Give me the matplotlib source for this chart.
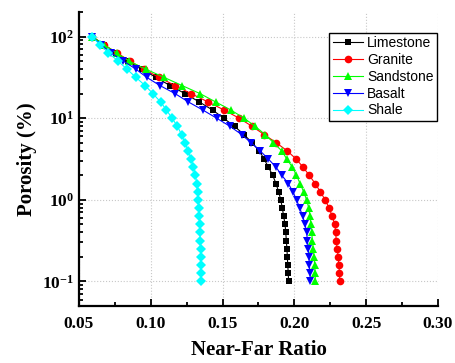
import matplotlib
matplotlib.use("Agg")
import matplotlib.pyplot as plt
from matplotlib.ticker import MultipleLocator, LogLocator

plt.rcParams['font.family'] = 'Liberation Serif'
plt.rcParams['font.weight'] = 'bold'
plt.rcParams['mathtext.fontset'] = 'custom'
plt.rcParams['mathtext.rm'] = 'Liberation Serif:bold'
plt.rcParams['mathtext.it'] = 'Liberation Serif:bold'
plt.rcParams['mathtext.bf'] = 'Liberation Serif:bold'

# porosity levels (%) shared by all rock types
porosity = [100, 79.4, 63.1, 50.1, 39.8, 31.6, 25.1, 20.0, 15.8, 12.6,
            10.0, 7.94, 6.31, 5.01, 3.98, 3.16, 2.51, 2.00, 1.58, 1.26,
            1.00, 0.794, 0.631, 0.501, 0.398, 0.316, 0.251, 0.200, 0.158, 0.126,
            0.100]

limestone = [0.0591, 0.0674, 0.0758, 0.0841, 0.0939, 0.1036, 0.1134, 0.1238, 0.1338, 0.1430,
             0.1507, 0.1583, 0.1649, 0.1705, 0.1756, 0.1789, 0.1819, 0.1849, 0.1872, 0.1890,
             0.1905, 0.1916, 0.1925, 0.1935, 0.1940, 0.1944, 0.1948, 0.1951, 0.1954, 0.1957,
             0.1960]
granite = [0.0591, 0.0674, 0.0765, 0.0855, 0.0953, 0.1057, 0.1169, 0.1280, 0.1399, 0.1510,
           0.1615, 0.1706, 0.1789, 0.1873, 0.1950, 0.2012, 0.2061, 0.2103, 0.2145, 0.2180,
           0.2214, 0.2242, 0.2263, 0.2281, 0.2288, 0.2291, 0.2298, 0.2305, 0.2310, 0.2314,
           0.2316]
sandstone = [0.0591, 0.0674, 0.0762, 0.0848, 0.0966, 0.1093, 0.1218, 0.1343, 0.1452, 0.1557,
             0.1650, 0.1727, 0.1796, 0.1854, 0.1912, 0.1947, 0.1986, 0.2014, 0.2040, 0.2064,
             0.2085, 0.2100, 0.2109, 0.2114, 0.2121, 0.2125, 0.2132, 0.2137, 0.2141, 0.2144,
             0.2146]
basalt = [0.0591, 0.0653, 0.0723, 0.0809, 0.0897, 0.0972, 0.1064, 0.1169, 0.1262, 0.1362,
          0.1459, 0.1552, 0.1632, 0.1698, 0.1761, 0.1819, 0.1872, 0.1912, 0.1958, 0.1989,
          0.2015, 0.2037, 0.2058, 0.2074, 0.2086, 0.2090, 0.2097, 0.2102, 0.2104, 0.2109,
          0.2111]
shale = [0.0591, 0.0646, 0.0705, 0.0772, 0.0834, 0.0897, 0.0960, 0.1015, 0.1068, 0.1109,
         0.1148, 0.1186, 0.1214, 0.1238, 0.1259, 0.1280, 0.1297, 0.1311, 0.1320, 0.1327,
         0.1331, 0.1335, 0.1338, 0.1341, 0.1343, 0.1345, 0.1347, 0.1349, 0.1350, 0.1352,
         0.1353]

series = [
    ("Limestone", limestone, 'black', 's', 5),
    ("Granite", granite, 'red', 'o', 5.5),
    ("Sandstone", sandstone, '#00ff00', '^', 6),
    ("Basalt", basalt, 'blue', 'v', 6),
    ("Shale", shale, 'cyan', 'D', 5),
]

fig = plt.figure(figsize=(4.55, 3.63), dpi=100)
ax = fig.add_axes([0.1736, 0.157, 0.789, 0.81])

for name, xs, c, m, ms in series:
    ax.plot(xs, porosity, color=c, marker=m, markersize=ms, lw=0.8,
            markeredgewidth=0, label=name)

ax.set_yscale('log')
ax.set_xlim(0.05, 0.30)
ax.set_ylim(0.05, 200)
ax.xaxis.set_minor_locator(MultipleLocator(0.025))
ax.yaxis.set_major_locator(LogLocator(base=10, numticks=10))
ax.yaxis.set_minor_locator(LogLocator(base=10, subs=range(2, 10), numticks=10))
ax.set_xticks([0.05, 0.10, 0.15, 0.20, 0.25, 0.30])
ax.set_xticklabels(['0.05', '0.10', '0.15', '0.20', '0.25', '0.30'])

ax.grid(True, which='major', linestyle=':', color='#c8c8c8', lw=0.8)
for s in ['top', 'right']:
    ax.spines[s].set_visible(False)
for s in ['left', 'bottom']:
    ax.spines[s].set_linewidth(1.6)
ax.tick_params(which='both', direction='in', width=1.3, labelsize=12.5)
ax.tick_params(which='major', length=5)
ax.tick_params(which='minor', length=3)
ax.tick_params(axis='x', pad=7)

ax.set_xlabel('Near-Far Ratio', fontsize=15, fontweight='bold', labelpad=6)
ax.set_ylabel('Porosity (%)', fontsize=15, fontweight='bold', labelpad=4)

leg = ax.legend(loc='upper right', bbox_to_anchor=(0.998, 0.929), borderaxespad=0,
                prop={'family': 'Liberation Sans', 'weight': 'normal', 'size': 10},
                frameon=True, fancybox=False, edgecolor='black', framealpha=1,
                handlelength=2.2, handletextpad=0.3, borderpad=0.25, labelspacing=0.2)
leg.get_frame().set_linewidth(1.0)

fig.savefig('out.png', dpi=100)
